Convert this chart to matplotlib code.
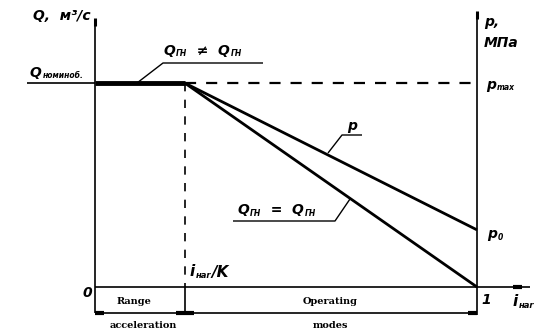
import matplotlib.pyplot as plt

# schematic values (x: relative gear ratio i_нar, y: relative Q / p)
i_knee = 0.235          # i_нar / K
q_level = 1.0           # Q_номин / p_max
p0 = 0.28               # p at i_нar = 1
x_pts = [0.0, i_knee, 1.0]
q_pts = [q_level, q_level, 0.0]
p_pts = [q_level, q_level, p0]

# pixel -> data mapping helpers (axis at 95 px, 382 px per unit; zero at 287 px, 204 px per unit)
def X(px):
    return (px - 95) / 382.0

def Y(py):
    return (287 - py) / 204.0

fig = plt.figure(figsize=(5.42, 3.31), dpi=100)
ax = fig.add_axes([0, 0, 1, 1])
ax.set_xlim(X(0), X(542))
ax.set_ylim(Y(331), Y(0))
ax.axis('off')

k = dict(color='black', solid_capstyle='butt')

# axes
ax.plot([0, 0], [Y(313), Y(20)], lw=1.2, **k)
ax.plot([1, 1], [Y(315), Y(13)], lw=1.2, **k)
ax.plot([0, 0], [Y(26), Y(18)], lw=2.2, **k)
ax.plot([1, 1], [Y(19), Y(11)], lw=2.2, **k)
ax.plot([0, X(530)], [0, 0], lw=1.2, **k)
ax.plot([X(513), X(522)], [0, 0], lw=3, **k)

# dimension line
ax.plot([0, 1], [Y(313), Y(313)], lw=1.2, **k)
for a, b in [(0, X(104)), (X(176), i_knee), (i_knee, X(194)), (X(468), 1)]:
    ax.plot([a, b], [Y(313), Y(313)], lw=3, **k)

# Q level left of axis
ax.plot([X(27), 0], [q_level, q_level], lw=1.2, **k)

# knee vertical
ax.plot([i_knee, i_knee], [q_level, 0], lw=1.2, ls=(0, (5, 5)), color='black')
ax.plot([i_knee, i_knee], [0, Y(313)], lw=1.2, **k)

# p_max dashed
ax.plot([i_knee, 1], [q_level, q_level], lw=1.6, ls=(0, (5, 4.5)), color='black')

# curves
ax.plot(x_pts[:2], q_pts[:2], lw=3.5, **k)
ax.plot(x_pts[1:], q_pts[1:], lw=2, **k)
ax.plot(x_pts[1:], p_pts[1:], lw=2, **k)

# leaders
ax.plot([X(137), X(163), X(263)], [q_level, Y(63), Y(63)], lw=1, **k)
ax.plot([X(328), X(342), X(362)], [Y(153), Y(135), Y(135)], lw=1, **k)
ax.plot([X(350), X(335), X(233)], [Y(199), Y(221), Y(221)], lw=1, **k)

it = dict(style='italic', weight='bold', color='black', family='DejaVu Sans')
fig.canvas.draw()
inv = ax.transData.inverted()

def lab(px, py, parts, size=10, ha='left'):
    # parts: list of (text, is_subscript)
    x = X(px)
    for txt, is_sub in parts:
        if is_sub:
            t = ax.text(x + 0.002, Y(py + 3), txt, fontsize=size * 0.55, va='center', ha='left', **it)
        else:
            t = ax.text(x, Y(py), txt, fontsize=size, va='center', ha=ha, **it)
        bb = t.get_window_extent(renderer=fig.canvas.get_renderer())
        x = inv.transform((bb.x1, bb.y0))[0]
    return x

lab(33, 16, [('Q,  м³/с', False)], size=10)
lab(30, 73, [('Q', False), ('номиноб.', True)], size=10)
lab(163, 51, [('Q', False), ('ГН', True), ('  ≠  ', False), ('Q', False), ('ГН', True)], size=10)
lab(347, 126, [('p', False)], size=10)
lab(237, 210, [('Q', False), ('ГН', True), ('  =  ', False), ('Q', False), ('ГН', True)], size=10)
lab(484, 22, [('p,', False)], size=10)
lab(484, 43, [('МПа', False)], size=10)
lab(486, 85, [('p', False), ('max', True)], size=10)
lab(487, 234, [('p', False), ('0', True)], size=10)
lab(92, 293, [('0', False)], size=10, ha='right')
lab(481, 300, [('1', False)], size=10)
lab(513, 302, [('i', False), ('нar', True)], size=11)
lab(190, 272, [('i', False), ('нar', True), ('/K', False)], size=11)

sf = dict(family='DejaVu Serif', weight='bold', fontsize=7, ha='center', va='center', color='black')
ax.text(X(134), Y(301), 'Range', **sf)
ax.text(X(143), Y(325), 'acceleration', **sf)
ax.text(X(330), Y(301), 'Operating', **sf)
ax.text(X(330), Y(325), 'modes', **sf)

fig.savefig('out.png', dpi=100)
